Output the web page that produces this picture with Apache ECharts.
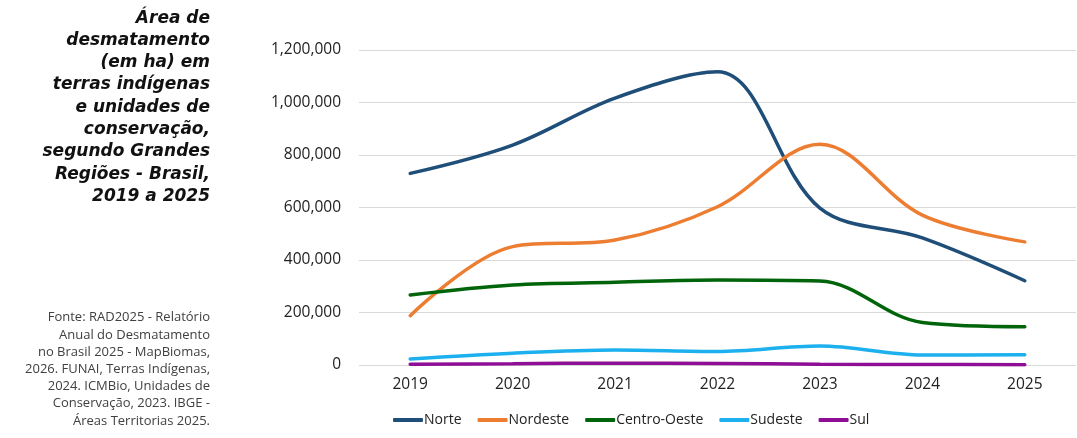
<!DOCTYPE html>
<html><head><meta charset="utf-8">
<script src="https://cdn.jsdelivr.net/npm/echarts@6/dist/echarts.min.js"></script>
<style>html,body{margin:0;padding:0;background:#fff}#c{width:1077px;height:438px}</style>
</head><body><div id="c"></div>
<script>
const years = ['2019','2020','2021','2022','2023','2024','2025'];
const norte = [730000, 838000, 1017000, 1117000, 598000, 484000, 321000];
const nordeste = [188000, 451000, 476000, 603000, 841000, 571000, 469000];
const centroOeste = [267000, 305000, 315000, 324000, 320000, 162000, 146000];
const sudeste = [23000, 45000, 57000, 51000, 72000, 38000, 39000];
const sul = [3000, 5000, 7000, 6000, 3000, 2000, 1000];
const titleLines = ['Área de','desmatamento','(em ha) em','terras indígenas','e unidades de','conservação,','segundo Grandes','Regiões - Brasil,','2019 a 2025'];
const sourceLines = ['Fonte: RAD2025 - Relatório','Anual do Desmatamento','no Brasil 2025 - MapBiomas,','2026. FUNAI, Terras Indígenas,','2024. ICMBio, Unidades de','Conservação, 2023. IBGE -','Áreas Territorias 2025.'];

const FONT = '"Open Sans", sans-serif';
const TFONT = '"DejaVu Sans", sans-serif';
const colors = ['#1F4E79','#ED7D31','#00640A','#1DB0EE','#8E0E96'];
const names = ['Norte','Nordeste','Centro-Oeste','Sudeste','Sul'];
const data = [norte, nordeste, centroOeste, sudeste, sul];

const chart = echarts.init(document.getElementById('c'), null, {renderer:'canvas'});
chart.setOption({
  animation:false,
  color: colors,
  grid:{left:359, right:1, top:50, bottom:73, containLabel:false},
  graphic:[
    {type:'text', x:210, y:7, style:{text:titleLines.join('\n'), align:'right', font:'italic bold 17px '+TFONT, lineHeight:22.3, fill:'#111'}},
    {type:'text', x:210, y:309, style:{text:sourceLines.join('\n'), align:'right', font:'13px '+FONT, lineHeight:17.2, fill:'#404040'}}
  ],
  xAxis:{type:'category', data:years, boundaryGap:true,
    axisLine:{show:false}, axisTick:{show:false},
    axisLabel:{color:'#222', fontSize:15.5, fontFamily:FONT, margin:12}},
  yAxis:{type:'value', min:0, max:1200000, interval:200000,
    axisLine:{show:false}, axisTick:{show:false},
    splitLine:{lineStyle:{color:'#d9d9d9', width:1}},
    axisLabel:{color:'#222', fontSize:15.5, fontFamily:FONT, margin:18,
      formatter:v=>v.toLocaleString('en-US')}},
  legend:{bottom:11, left:393, padding:0, icon:'roundRect', itemWidth:30, itemHeight:4, itemGap:16,
    textStyle:{fontSize:14, fontFamily:FONT, color:'#222', padding:[0,0,0,-4]}},
  series: names.map((n,i)=>({name:n, type:'line', data:data[i], smooth:0.35, symbol:'none',
    lineStyle:{width:3.5, color:colors[i], cap:'round'}}))
});
</script></body></html>
